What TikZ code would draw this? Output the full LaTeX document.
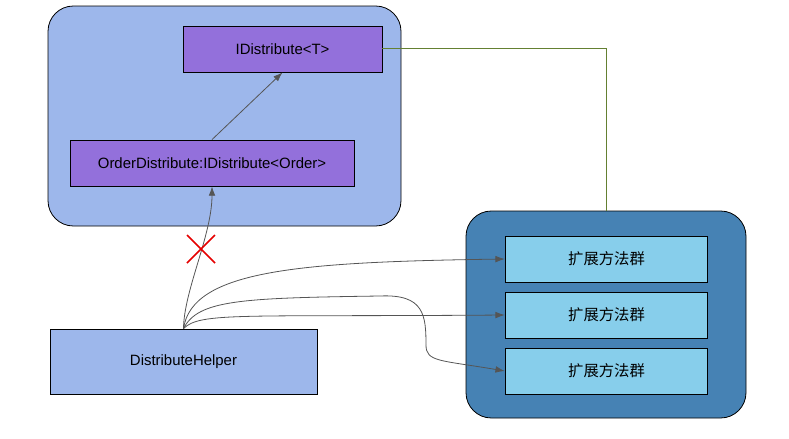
\documentclass[tikz,border=0pt]{standalone}
\usepackage{fontspec}
\setmainfont{Liberation Sans}
\newfontfamily\cjk{Noto Sans CJK SC}
\usetikzlibrary{calc,arrows.meta}

\definecolor{groupblue}{RGB}{157,183,235}
\definecolor{ifacepurple}{RGB}{147,112,219}
\definecolor{extsteel}{RGB}{70,130,180}
\definecolor{extsky}{RGB}{135,206,235}
\definecolor{linkgray}{RGB}{85,85,85}
\definecolor{linkgreen}{RGB}{100,128,50}

\tikzset{
  groupbox/.style={draw, line width=0.6pt, rounded corners=19pt, inner sep=0pt},
  classbox/.style={draw, line width=0.6pt, fill=ifacepurple, inner sep=0pt, font=\fontsize{11.2}{13}\selectfont},
  extbox/.style={draw, line width=0.6pt, fill=extsky, minimum width=152pt, minimum height=34.5pt, inner sep=0pt, font=\fontsize{11.5}{13}\selectfont\cjk},
  link/.style={draw=linkgray, line width=0.6pt, -{Latex[length=7pt,width=5pt]}},
}

\begin{document}
\begin{tikzpicture}[x=0.75pt,y=-0.75pt]

% Frame of the picture
\useasboundingbox (0,0) rectangle (789,439);

% Group backgrounds
\node[groupbox, fill=groupblue, minimum width=264.75pt, minimum height=165pt] (core) at (224.5,116) {};
\node[groupbox, fill=extsteel, minimum width=210pt, minimum height=155.25pt] (ext) at (606,314.5) {};

% Interface and its implementation
\node[classbox, minimum width=149.25pt, minimum height=34.5pt] (iface) at (282.5,49) {IDistribute<T>};
\node[classbox, minimum width=213pt, minimum height=34.5pt] (order) at (212,163) {OrderDistribute:IDistribute<Order>};

% Helper
\node[draw, line width=0.6pt, fill=groupblue, minimum width=200.25pt, minimum height=48.75pt, inner sep=0pt, font=\fontsize{11.2}{13}\selectfont] (helper) at (183.5,361.5) {DistributeHelper};

% Extension method groups
\node[extbox] (extA) at (606.5,259) {扩展方法群};
\node[extbox] (extB) at (606.5,315) {扩展方法群};
\node[extbox] (extC) at (606.5,371) {扩展方法群};

% Green link from the interface to the extension group
\coordinate (bend) at (606,48);
\draw[linkgreen, line width=0.7pt] (iface.east |- bend) -- (bend) -- (ext.north -| bend);

% Inheritance arrow
\draw[link] (order.north) -- (iface.south);

% Helper to implementation (crossed out)
\draw[link] (helper.north) .. controls (184,290) and (212,235) .. (order.south);
\draw[red!90!black, line width=1.1pt] (187,235) -- (215,263) (215,235) -- (187,263);

% Helper to extension groups
\draw[link] (helper.north) .. controls (192,270) and (300,262) .. (extA.west);
\draw[link] (helper.north) .. controls (200,312) and (240,317) .. (extB.west);
\coordinate (turn) at (380,296);
\coordinate (drop) at (426,345);
\draw[linkgray, line width=0.6pt] (helper.north) .. controls (198,300) and (240,298) .. (turn)
  .. controls (424,294) and (426,315) .. (drop);
\draw[link] (drop) .. controls (426,362) and (440,360) .. (extC.west);

\end{tikzpicture}
\end{document}
